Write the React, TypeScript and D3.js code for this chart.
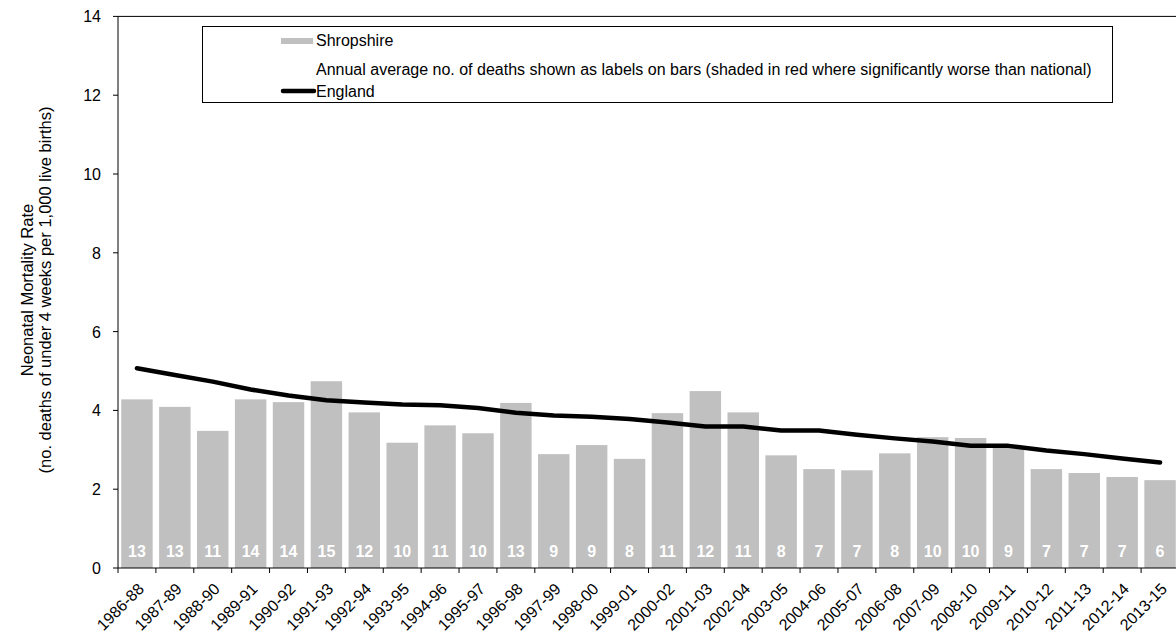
import React from "react";
import * as d3 from "d3";

const categories = ["1986-88","1987-89","1988-90","1989-91","1990-92","1991-93","1992-94","1993-95","1994-96","1995-97","1996-98","1997-99","1998-00","1999-01","2000-02","2001-03","2002-04","2003-05","2004-06","2005-07","2006-08","2007-09","2008-10","2009-11","2010-12","2011-13","2012-14","2013-15"];
const shropshire = [4.28,4.09,3.48,4.28,4.21,4.74,3.95,3.18,3.62,3.42,4.19,2.89,3.12,2.77,3.93,4.49,3.95,2.86,2.51,2.48,2.91,3.32,3.30,3.08,2.51,2.41,2.31,2.23];
const deaths = [13,13,11,14,14,15,12,10,11,10,13,9,9,8,11,12,11,8,7,7,8,10,10,9,7,7,7,6];
const england = [5.07,4.90,4.73,4.53,4.38,4.26,4.20,4.15,4.13,4.06,3.94,3.87,3.84,3.78,3.69,3.59,3.59,3.49,3.49,3.38,3.29,3.21,3.10,3.10,2.98,2.89,2.78,2.68];
const yTicks = [0,2,4,6,8,10,12,14];

const W = 1176, H = 637;
const left = 118, right = 1179, top = 16.4, bottom = 568;
const font = "Liberation Sans, Arial, sans-serif";

export default function App() {
  const x = d3.scaleBand<string>().domain(categories).range([left, right]).paddingInner(0.17).paddingOuter(0.085);
  const y = d3.scaleLinear().domain([0, 14]).range([bottom, top]);
  const step = x.step();
  const line = d3.line<number>()
    .x((_, i) => (x(categories[i]) as number) + x.bandwidth() / 2)
    .y(d => y(d));
  return (
    <svg width={W} height={H} style={{ position: "absolute", left: 0, top: 0, background: "#fff" }} fontFamily={font}>
      {shropshire.map((v, i) => (
        <rect key={categories[i]} x={x(categories[i])} y={y(v)} width={x.bandwidth()} height={bottom - y(v)} fill="#c0c0c0" />
      ))}
      {deaths.map((d, i) => (
        <text key={"d" + i} x={(x(categories[i]) as number) + x.bandwidth() / 2} y={556.5} textAnchor="middle" fill="#fff" fontSize={16} fontWeight="bold">{d}</text>
      ))}
      <path d={line(england) || ""} fill="none" stroke="#000" strokeWidth={4.5} strokeLinecap="round" strokeLinejoin="round" />
      <line x1={left} x2={left} y1={top} y2={bottom} stroke="#000" strokeWidth={1} />
      <line x1={left} x2={W} y1={top} y2={top} stroke="#000" strokeWidth={1} />
      <line x1={left} x2={W} y1={bottom} y2={bottom} stroke="#000" strokeWidth={1} />
      {yTicks.map(t => (
        <g key={"y" + t}>
          <line x1={left - 5} x2={left} y1={y(t)} y2={y(t)} stroke="#000" />
          <text x={101} y={y(t) + 6} textAnchor="end" fontSize={16} fill="#000">{t}</text>
        </g>
      ))}
      {categories.map((c, i) => (
        <line key={"t" + i} x1={left + i * step} x2={left + i * step} y1={bottom} y2={bottom + 5} stroke="#000" />
      ))}
      {categories.map((c, i) => {
        const cx = (x(c) as number) + x.bandwidth() / 2 + 8;
        const cy = 590;
        return (
          <text key={"l" + i} transform={`translate(${cx},${cy}) rotate(-45)`} textAnchor="end" fontSize={16} fill="#000">{c}</text>
        );
      })}
      <text transform={`translate(33,290) rotate(-90)`} textAnchor="middle" fontSize={16.5} fill="#000">Neonatal Mortality Rate</text>
      <text transform={`translate(51,290) rotate(-90)`} textAnchor="middle" fontSize={16.5} fill="#000">(no. deaths of under 4 weeks per 1,000 live births)</text>
      <rect x={202.5} y={26.5} width={910} height={76} fill="#fff" stroke="#000" strokeWidth={1} />
      <rect x={281} y={38} width={32} height={6} fill="#c0c0c0" />
      <text x={316} y={46} fontSize={16} fill="#000">Shropshire</text>
      <text x={316} y={75} fontSize={16} fill="#000">Annual average no. of deaths shown as labels on bars (shaded in red where significantly worse than national)</text>
      <line x1={283} x2={314} y1={91} y2={91} stroke="#000" strokeWidth={4.5} strokeLinecap="round" />
      <text x={316} y={96.5} fontSize={16} fill="#000">England</text>
    </svg>
  );
}
